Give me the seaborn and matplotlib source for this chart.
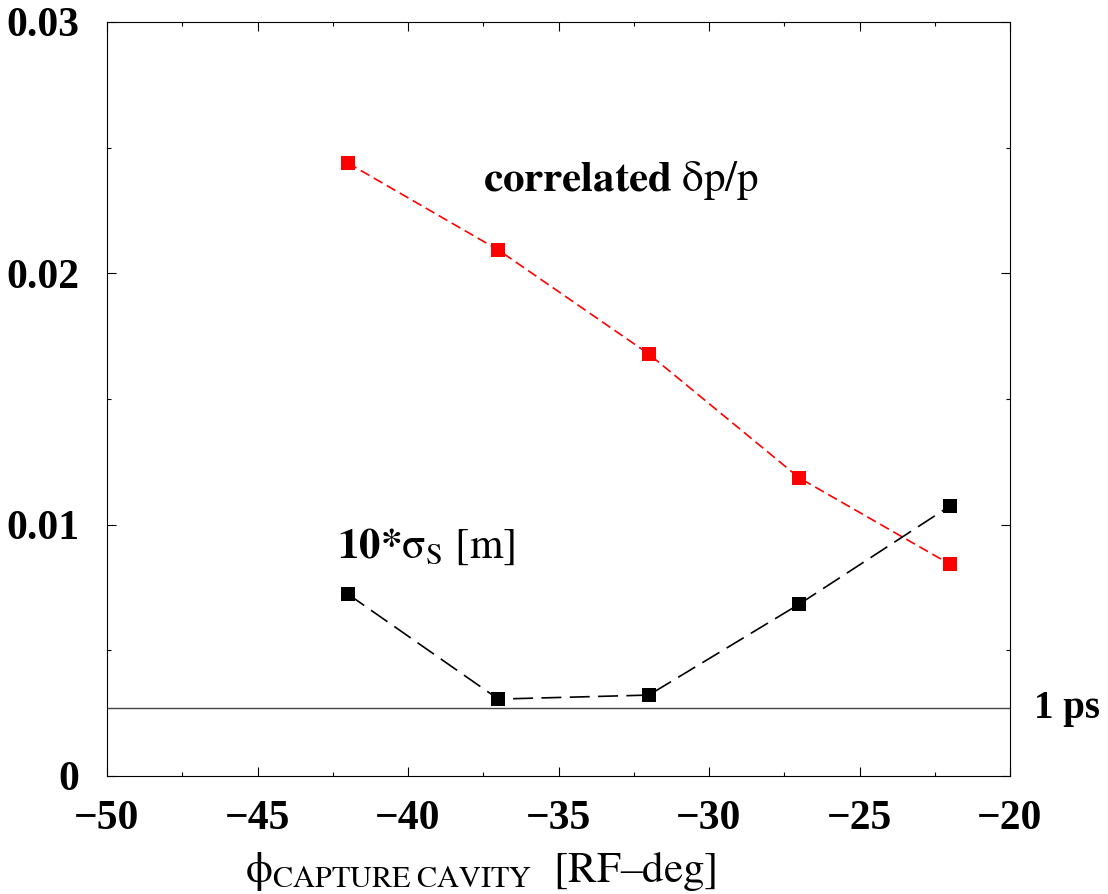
import matplotlib
matplotlib.use("Agg")
import matplotlib.pyplot as plt
import seaborn as sns
import numpy as np
from matplotlib.ticker import MultipleLocator

phase = [-42, -37, -32, -27, -22]
dpp = [0.02439, 0.02093, 0.01679, 0.01186, 0.00843]
sigma_s10 = [0.00724, 0.00306, 0.00322, 0.00684, 0.01074]
one_ps = 0.0027

sns.set_style("ticks")
plt.rcParams['font.family'] = ['Liberation Serif', 'DejaVu Serif']
plt.rcParams['mathtext.fontset'] = 'stix'
plt.rcParams['text.color'] = 'black'
plt.rcParams['xtick.color'] = 'black'
plt.rcParams['ytick.color'] = 'black'
plt.rcParams['axes.labelcolor'] = 'black'

fig = plt.figure(figsize=(11.08, 8.94), dpi=100)
ax = fig.add_axes([107/1108, 118/894, 903/1108, 754/894])

ax.axhline(one_ps, color='#444444', lw=1.0, zorder=1)

sns.lineplot(x=phase, y=dpp, ax=ax, color='red', marker='s', markersize=10,
             markeredgewidth=0, linewidth=1.2, linestyle=(0, (6, 3)), zorder=3)
sns.lineplot(x=phase, y=sigma_s10, ax=ax, color='black', marker='s', markersize=10,
             markeredgewidth=0, linewidth=1.2, linestyle=(0, (12, 5)), zorder=3)

ax.set_xlim(-50, -20)
ax.set_ylim(0, 0.03)
ax.xaxis.set_major_locator(MultipleLocator(5))
ax.xaxis.set_minor_locator(MultipleLocator(2.5))
ax.yaxis.set_major_locator(MultipleLocator(0.01))
ax.yaxis.set_minor_locator(MultipleLocator(0.005))
ax.set_yticks([0, 0.01, 0.02, 0.03])
ax.set_yticklabels(['0', '0.01', '0.02', '0.03'])

ax.tick_params(which='both', direction='in', top=True, right=True, width=0.8)
ax.tick_params(which='major', length=6.5, labelsize=30)
ax.tick_params(axis='x', which='major', pad=17)
ax.tick_params(axis='y', which='major', pad=20)
ax.tick_params(which='minor', length=3)
for lab in ax.get_xticklabels() + ax.get_yticklabels():
    lab.set_fontweight('bold')
for s in ax.spines.values():
    s.set_linewidth(0.8)
    s.set_color('black')

ax.set_xlabel(r"$\mathrm{\phi}_{\mathrm{CAPTURE\ CAVITY}}\ \ \mathrm{[RF}$" + "\u2013" + r"$\mathrm{deg]}$",
              fontsize=31)
ax.xaxis.set_label_coords(0.414, -0.097)

ax.text(-37.5, 0.0237, r"$\mathbf{correlated}\ \mathrm{\delta p/p}$", fontsize=31,
        va='center', ha='left')
ax.text(-42.35, 0.0091, r"$\mathbf{10{*}}\mathrm{\sigma_{S}}\ \mathrm{[m]}$", fontsize=31,
        va='center', ha='left')
ax.text(1.027, one_ps, "1 ps", transform=ax.get_yaxis_transform(), fontsize=28,
        fontweight='bold', va='center', ha='left')

fig.savefig("out.png", dpi=100)
